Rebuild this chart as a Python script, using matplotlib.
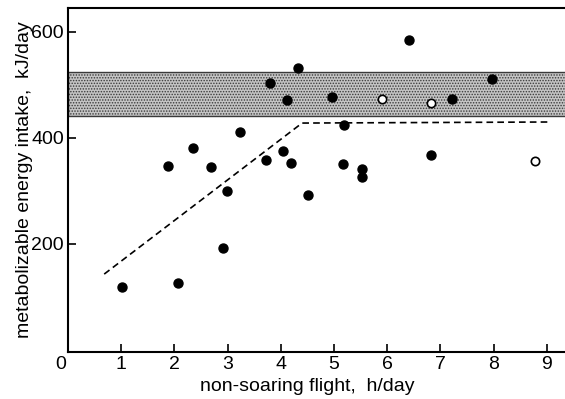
import matplotlib.pyplot as plt
import matplotlib.transforms as mtransforms

plt.rcParams['font.family'] = ['Liberation Sans', 'DejaVu Sans']
plt.rcParams['hatch.linewidth'] = 0.7

# filled points: flight h/day vs energy intake kJ/day
x_filled = [1.02, 1.88, 2.06, 2.35, 2.69, 2.92, 2.98, 3.23, 3.73, 3.80, 4.05, 4.12,
            4.20, 4.32, 4.51, 4.96, 5.17, 5.19, 5.53, 5.53, 6.41, 6.82, 7.22, 7.97]
y_filled = [119, 347, 126, 381, 345, 192, 300, 411, 358, 504, 376, 472,
            352, 532, 292, 477, 351, 424, 341, 327, 585, 368, 473, 511]

# open points
x_open = [5.90, 6.82, 8.78]
y_open = [473, 466, 357]

# dashed model line
x_line = [0.68, 4.40, 9.05]
y_line = [143, 428, 430]

# shaded band
band_low, band_high = 442, 525

xticks = [0, 1, 2, 3, 4, 5, 6, 7, 8, 9]
yticks = [200, 400, 600]

fig = plt.figure(figsize=(5.65, 3.99), dpi=100)
ax = fig.add_axes([0.1204, 0.1178, 0.95, 0.862])

ax.axhspan(band_low, band_high, facecolor='#c4c4c4', edgecolor='#3a3a3a',
           hatch='......', linewidth=1.0, zorder=1)

ax.plot(x_line, y_line, color='black', linestyle=(0, (4, 2.5)), linewidth=1.2, zorder=2)
ax.scatter(x_filled, y_filled, s=42, color='black', zorder=3)
ax.scatter(x_open, y_open, s=36, facecolor='white', edgecolor='black', linewidth=1.2, zorder=3)

ax.set_xlim(0, 10.09)
ax.set_ylim(-4, 645)

ax.set_xticks(xticks)
ax.set_yticks(yticks)
ax.tick_params(direction='in', length=6, width=1.2, labelsize=14, pad=3)

# origin label sits left of the corner
lab0 = ax.get_xticklabels()[0]
lab0.set_transform(lab0.get_transform() + mtransforms.ScaledTranslation(-5/72, 0, fig.dpi_scale_trans))

for side in ['left', 'bottom', 'top']:
    ax.spines[side].set_linewidth(1.5)
ax.spines['right'].set_visible(False)

ax.set_xlabel('non-soaring flight,  h/day', fontsize=14)
ax.set_ylabel('metabolizable energy intake,  kJ/day', fontsize=14)
ax.xaxis.set_label_coords(0.445, -0.075)
ax.yaxis.set_label_coords(-0.065, 0.5)

fig.savefig('out.png', dpi=100)
